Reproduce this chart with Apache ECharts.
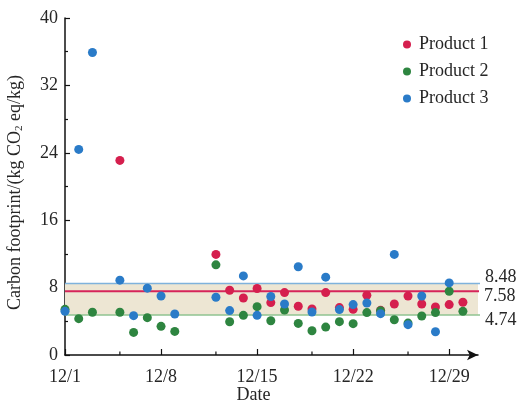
<!DOCTYPE html>
<html>
<head>
<meta charset="utf-8">
<script src="https://cdn.jsdelivr.net/npm/echarts@6/dist/echarts.min.js"></script>
<style>
  html, body { margin: 0; padding: 0; background: #fff; }
  #chart { width: 520px; height: 402px; }
</style>
</head>
<body>
<div id="chart"></div>
<script>
// Day offsets from 12/1 (0 = 12/1 ... 29 = 12/30)
var days = [0, 1, 2, 3, 4, 5, 6, 7, 8, 9, 10, 11, 12, 13, 14, 15, 16, 17, 18, 19, 20, 21, 22, 23, 24, 25, 26, 27, 28, 29];

// Daily carbon footprint, kg CO2 eq/kg (null = no measurement that day)
var product1 = [null, null, null, null, 23.1, null, null, null, null, null, null, 11.94, 7.69, 6.77, 7.89, 6.22, 7.41, 5.78, 5.46, 7.41, 5.63, 5.42, 7.09, 5.30, 6.06, 7.0, 6.06, 5.70, 5.98, 6.26];
var product2 = [5.42, 4.31, 5.07, null, 5.07, 2.68, 4.43, 3.40, 2.80, null, null, 10.7, 3.95, 4.71, 5.74, 4.07, 5.34, 3.75, 2.88, 3.31, 3.96, 3.72, 5.03, 5.25, 4.19, 3.79, 4.63, 5.03, 7.57, 5.18];
var product3 = [5.18, 24.4, 35.9, null, 8.88, 4.67, 7.93, 7.0, 4.86, null, null, 6.85, 5.27, 9.39, 4.71, 6.94, 6.06, 10.47, 5.10, 9.24, 5.39, 5.98, 6.17, 4.91, 11.94, 3.6, 7.0, 2.76, 8.56, null];

// Reference levels: upper bound, mean, lower bound
var refUpper = 8.48;
var refMean = 7.58;
var refLower = 4.74;

// Axis ticks
var xTickDays = [0, 7, 14, 21, 28];
var xTickLabels = ['12/1', '12/8', '12/15', '12/22', '12/29'];
var xMinorDays = [4, 11, 18, 25];
var yTicks = [0, 8, 16, 24, 32, 40];

var seriesNames = ['Product 1', 'Product 2', 'Product 3'];
var seriesColors = ['#d51f4e', '#2e8540', '#2a7bc8'];

var FONT = '"Liberation Serif", "Times New Roman", serif';
var TEXT = '#262626';
var X_MAX = 30.1;
var X_REF_END = 30.45;

function toPoints(values) {
  var pts = [];
  for (var i = 0; i < days.length; i++) {
    if (values[i] != null) pts.push([days[i], values[i]]);
  }
  return pts;
}

var chart = echarts.init(document.getElementById('chart'), null, { renderer: 'canvas' });

var scatter = [product1, product2, product3].map(function (vals, k) {
  return {
    name: seriesNames[k],
    type: 'scatter',
    data: toPoints(vals),
    symbol: 'circle',
    symbolSize: 9,
    itemStyle: { color: seriesColors[k], opacity: 1 },
    z: 5 + k
  };
});

// Horizontal reference line with its value printed past the right end
function refLine(name, value, color, width, dy) {
  return {
    name: name,
    type: 'line',
    clip: false,
    silent: true,
    symbol: 'none',
    z: 3,
    lineStyle: { color: color, width: width },
    data: [[0, value], [X_REF_END, value]],
    endLabel: {
      show: true, distance: 5, offset: [0, dy],
      color: TEXT, fontFamily: FONT, fontSize: 18,
      formatter: function () { return value.toFixed(2); }
    }
  };
}

// Shaded band between the lower and upper bounds
var bandSeries = {
  name: 'band',
  type: 'line',
  clip: false,
  silent: true,
  symbol: 'none',
  z: 1,
  lineStyle: { width: 0 },
  data: [],
  markArea: {
    silent: true,
    itemStyle: { color: '#ede6d3' },
    data: [[{ coord: [0, refLower] }, { coord: [X_REF_END, refUpper] }]]
  }
};

// Short minor ticks on the date axis
var minorTickSeries = {
  name: 'minorTicks',
  type: 'custom',
  silent: true,
  clip: false,
  z: 10,
  data: xMinorDays.map(function (d) { return [d, 0]; }),
  renderItem: function (params, api) {
    var p = api.coord([api.value(0), 0]);
    return {
      type: 'line',
      shape: { x1: p[0], y1: p[1], x2: p[0], y2: p[1] - 3.5 },
      style: { stroke: '#111', lineWidth: 1.2 }
    };
  }
};

var option = {
  animation: false,
  backgroundColor: '#fff',
  grid: { left: 65, right: 42, top: 18, bottom: 47, containLabel: false, outerBoundsMode: 'none' },
  legend: {
    data: seriesNames,
    orient: 'vertical',
    left: 398,
    top: 30,
    icon: 'circle',
    itemWidth: 8,
    itemHeight: 8,
    itemGap: 8,
    textStyle: { color: TEXT, fontFamily: FONT, fontSize: 18, lineHeight: 19, padding: [0, 0, 0, 3] }
  },
  xAxis: {
    type: 'value',
    min: 0,
    max: X_MAX,
    interval: 7,
    name: 'Date',
    nameLocation: 'middle',
    nameGap: 31,
    nameMoveOverlap: false,
    nameTextStyle: { color: TEXT, fontFamily: FONT, fontSize: 18, padding: [0, 36, 0, 0] },
    axisLine: { show: true, symbol: ['none', 'arrow'], symbolSize: [8, 11], lineStyle: { color: '#111', width: 1.5 } },
    axisTick: { show: true, inside: true, length: 6, customValues: xTickDays, lineStyle: { color: '#111', width: 1.2 } },
    axisLabel: {
      show: true, margin: 13, color: TEXT, fontFamily: FONT, fontSize: 18,
      customValues: xTickDays,
      formatter: function (v) { var i = xTickDays.indexOf(v); return i >= 0 ? xTickLabels[i] : ''; }
    },
    splitLine: { show: false }
  },
  yAxis: {
    type: 'value',
    min: 0,
    max: 40,
    interval: 8,
    name: '{t|Carbon footprint/(kg CO}{s|2}{t| eq/kg)}',
    nameLocation: 'middle',
    nameGap: 40,
    nameRotate: 90,
    nameMoveOverlap: false,
    nameTextStyle: {
      padding: [0, 12, 0, 0],
      rich: {
        t: { color: TEXT, fontFamily: FONT, fontSize: 18 },
        s: { color: TEXT, fontFamily: FONT, fontSize: 11, verticalAlign: 'bottom', padding: [8, 0, 0, 0] }
      }
    },
    axisLine: { show: true, lineStyle: { color: '#111', width: 1.5 } },
    axisTick: { show: true, inside: true, length: 5, lineStyle: { color: '#111', width: 1.2 } },
    minorTick: { show: true, splitNumber: 2, length: 3, lineStyle: { color: '#111', width: 1.2 } },
    axisLabel: {
      margin: 7, color: TEXT, fontFamily: FONT, fontSize: 18,
      formatter: function (v) { return yTicks.indexOf(v) >= 0 ? String(v) : ''; }
    },
    splitLine: { show: false }
  },
  series: [
    bandSeries,
    refLine('upper', refUpper, '#7fb2dc', 1.5, -6),
    refLine('mean', refMean, '#d6245a', 2, 5),
    refLine('lower', refLower, '#8fc391', 1.5, 5),
    minorTickSeries
  ].concat(scatter)
};

chart.setOption(option);
</script>
</body>
</html>
